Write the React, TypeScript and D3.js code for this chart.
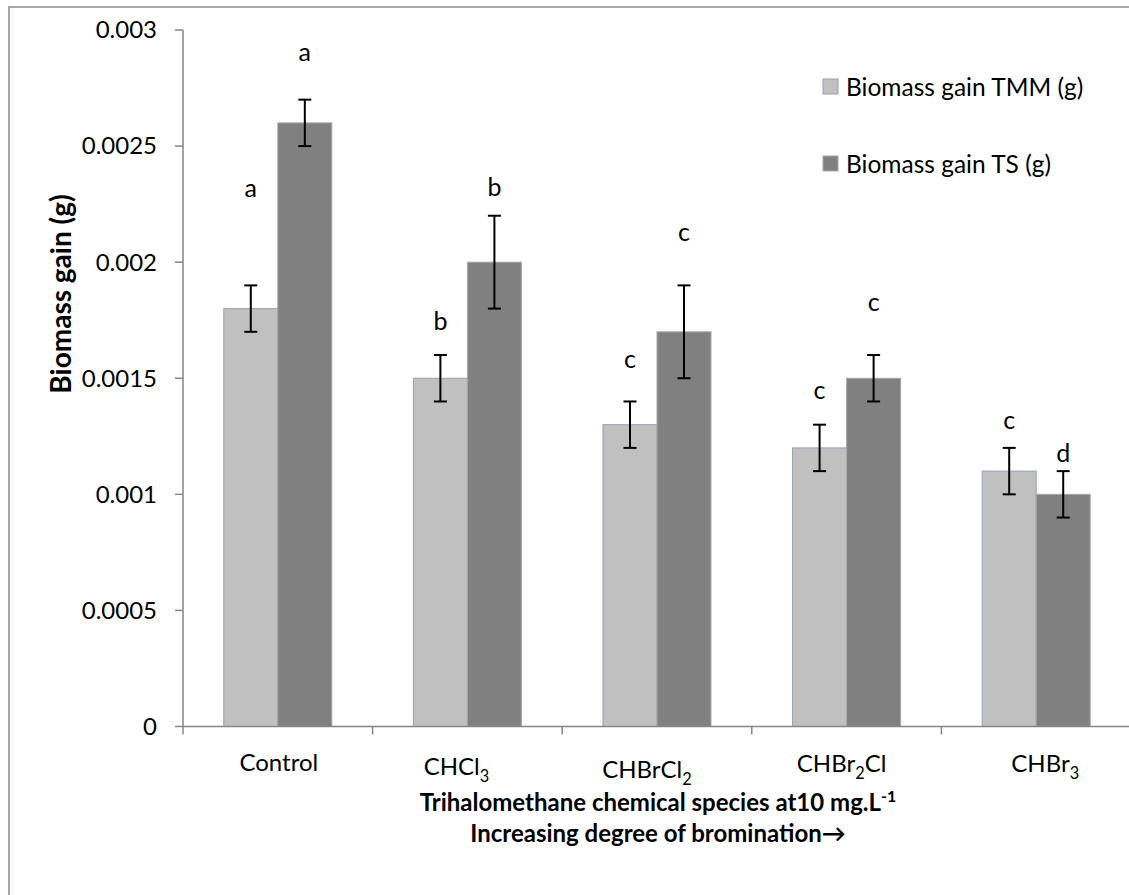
import React from 'react';
import * as d3 from 'd3';

// chart data
const categories = ['Control', 'CHCl3', 'CHBrCl2', 'CHBr2Cl', 'CHBr3'];
const seriesNames = ['Biomass gain TMM (g)', 'Biomass gain TS (g)'];
const tmmValues = [0.0018, 0.0015, 0.0013, 0.0012, 0.0011];
const tsValues = [0.0026, 0.002, 0.0017, 0.0015, 0.001];
const tmmErrors = [0.0001, 0.0001, 0.0001, 0.0001, 0.0001];
const tsErrors = [0.0001, 0.0002, 0.0002, 0.0001, 0.0001];
const tmmLetters = ['a', 'b', 'c', 'c', 'c'];
const tsLetters = ['a', 'b', 'c', 'c', 'd'];
// height (in data units) at which each significance letter sits
const tmmLetterAt = [0.00232, 0.001747, 0.001583, 0.00145, 0.00132];
const tsLetterAt = [0.002905, 0.002324, 0.002128, 0.001828, 0.001178];
const yTicks = [0, 0.0005, 0.001, 0.0015, 0.002, 0.0025, 0.003];
const yTickLabels = ['0', '0.0005', '0.001', '0.0015', '0.002', '0.0025', '0.003'];

// layout
const W = 1129;
const H = 895;
const left = 183;
const right = 1131;
const top = 30;
const bottom = 726.5;
const FONT = 'Lato, Carlito, Calibri, sans-serif';
const colors = ['#c0c0c0', '#808080'];
const strokes = ['#98a0b4', '#a8a8a8'];
// small manual nudges of the category labels, as in the original
const labelDx = [1, -11, -10, -5, 9];
const labelDy = [0, 4, 7, 1, 1];

function Formula({text, fontSize}: {text: string; fontSize: number})
{
    // digits become subscripts
    const parts = text.split(/(\d+)/).filter(s => s.length);
    return (
        <>
            {parts.map((p, i) =>
            {
                const isNum = /^\d+$/.test(p);
                const prevNum = i > 0 && /^\d+$/.test(parts[i - 1]);
                let dy: number | undefined = undefined;
                if (isNum) dy = 7;
                else if (prevNum) dy = -7;
                return (
                    <tspan key={i} dy={dy} fontSize={isNum ? fontSize * 0.68 : fontSize}>{p}</tspan>
                );
            })}
        </>
    );
}

export default function App()
{
    const x = d3.scaleBand<string>().domain(categories).range([left, right]).paddingInner(0).paddingOuter(0);
    const xSub = d3.scaleBand<string>().domain(['tmm', 'ts']).range([0, x.bandwidth()]).paddingInner(0).paddingOuter(0.755);
    const y = d3.scaleLinear().domain([0, 0.003]).range([bottom, top]);

    const series = [
        {key: 'tmm', values: tmmValues, errors: tmmErrors, letters: tmmLetters, letterAt: tmmLetterAt},
        {key: 'ts', values: tsValues, errors: tsErrors, letters: tsLetters, letterAt: tsLetterAt}
    ];

    const bw = xSub.bandwidth();
    const axisColor = '#868686';

    return (
        <svg width={W} height={H} style={{position: 'absolute', left: 0, top: 0, background: '#fff'}}
             fontFamily={FONT}>
            <rect x={9} y={7} width={1300} height={1100} fill="#fff" stroke="#8c8c8c" strokeWidth={1.5}/>

            {/* bars */}
            {series.map((s, si) => (
                <g key={s.key}>
                    {categories.map((c, i) =>
                    {
                        const bx = (x(c) as number) + (xSub(s.key) as number);
                        return (
                            <rect key={c} x={bx} y={y(s.values[i])} width={bw} height={bottom - y(s.values[i])}
                                  fill={colors[si]} stroke={strokes[si]} strokeWidth={1}/>
                        );
                    })}
                </g>
            ))}

            {/* error bars */}
            {series.map(s => (
                <g key={s.key + 'err'} stroke="#000" strokeWidth={2}>
                    {categories.map((c, i) =>
                    {
                        const cx = (x(c) as number) + (xSub(s.key) as number) + bw / 2;
                        const y1 = y(s.values[i] + s.errors[i]);
                        const y2 = y(s.values[i] - s.errors[i]);
                        return (
                            <g key={c}>
                                <line x1={cx} x2={cx} y1={y1} y2={y2}/>
                                <line x1={cx - 6.5} x2={cx + 6.5} y1={y1} y2={y1}/>
                                <line x1={cx - 6.5} x2={cx + 6.5} y1={y2} y2={y2}/>
                            </g>
                        );
                    })}
                </g>
            ))}

            {/* significance letters */}
            {series.map(s => (
                <g key={s.key + 'let'} fontSize={25} textAnchor="middle" fill="#000">
                    {categories.map((c, i) =>
                    {
                        const cx = (x(c) as number) + (xSub(s.key) as number) + bw / 2;
                        return <text key={c} x={cx} y={y(s.letterAt[i])} dy="0.35em">{s.letters[i]}</text>;
                    })}
                </g>
            ))}

            {/* y axis */}
            <g stroke={axisColor} strokeWidth={1.5}>
                <line x1={left} x2={left} y1={top} y2={bottom}/>
                {yTicks.map(t => <line key={t} x1={left - 8} x2={left} y1={y(t)} y2={y(t)}/>)}
            </g>
            <g fontSize={24} textAnchor="end" fill="#000">
                {yTicks.map((t, i) => (
                    <text key={t} x={157} y={y(t)} dy="0.35em">{yTickLabels[i]}</text>
                ))}
            </g>

            {/* x axis */}
            <g stroke={axisColor} strokeWidth={1.5}>
                <line x1={left} x2={right} y1={bottom} y2={bottom}/>
                {categories.map(c => (
                    <line key={c} x1={x(c) as number} x2={x(c) as number} y1={bottom} y2={bottom + 8}/>
                ))}
                <line x1={right} x2={right} y1={bottom} y2={bottom + 8}/>
            </g>
            <g fontSize={24} textAnchor="middle" fill="#000">
                {categories.map((c, i) => (
                    <text key={c} x={(x(c) as number) + x.bandwidth() / 2 + labelDx[i]} y={771 + labelDy[i]}>
                        {c === 'Control' ? c : <Formula text={c} fontSize={24}/>}
                    </text>
                ))}
            </g>

            {/* axis titles */}
            <g fontWeight="bold" textAnchor="middle" fill="#000">
                <text x={658} y={811} fontSize={24}>
                    Trihalomethane chemical species at10 mg.L<tspan dy={-9} fontSize={16}>-1</tspan>
                </text>
                <text x={658} y={842} fontSize={24}>Increasing degree of bromination→</text>
                <text transform="translate(71,294) rotate(-90)" fontSize={28}>Biomass gain (g)</text>
            </g>

            {/* legend */}
            <g fontSize={24.5} fill="#000">
                {seriesNames.map((n, i) => (
                    <g key={n} transform={`translate(823,${79 + i * 77})`}>
                        <rect x={0} y={0} width={15} height={15} fill={colors[i]} stroke={strokes[i]} strokeWidth={1}/>
                        <text x={23} y={8} dy="0.35em">{n}</text>
                    </g>
                ))}
            </g>
        </svg>
    );
}
